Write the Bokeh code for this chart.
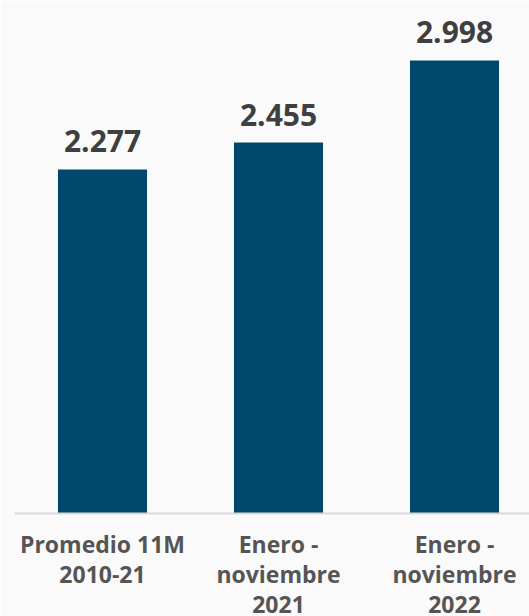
from bokeh.plotting import figure
from bokeh.models import ColumnDataSource, Range1d, FixedTicker
from bokeh.embed import file_html
from bokeh.resources import INLINE
from bokeh.core.properties import value

categories = ["Promedio 11M\n2010-21", "Enero -\nnoviembre\n2021", "Enero -\nnoviembre\n2022"]
values = [2277, 2455, 2998]

xs = [i + 0.5 for i in range(len(categories))]
labels = [f"{v:,}".replace(",", ".") for v in values]
src = ColumnDataSource(dict(x=xs, top=values, label=labels))

BG = "#fafafa"
p = figure(frame_width=515, frame_height=505, output_backend="svg", toolbar_location=None,
           x_range=Range1d(0, 2.926), y_range=Range1d(0, 3342),
           min_border_left=14, min_border_right=0, min_border_top=8, min_border_bottom=0,
           background_fill_color=BG, border_fill_color=BG, outline_line_color=None)

p.vbar(x="x", top="top", width=0.506, bottom=0, source=src, fill_color="#00486b", line_color=None)
p.text(x="x", y="top", text="label", source=src, text_align="center", text_baseline="alphabetic",
       y_offset=-28, text_font=value("Open Sans"), text_font_style="bold", text_font_size="30px",
       text_color="#3f3f3f")

p.yaxis.visible = False
p.grid.visible = False
ax = p.xaxis[0]
ax.ticker = FixedTicker(ticks=xs)
ax.major_label_overrides = {x: c for x, c in zip(xs, categories)}
ax.axis_line_color = "#d9d9d9"
ax.axis_line_width = 2
ax.major_tick_line_color = None
ax.minor_tick_line_color = None
ax.major_tick_out = 0
ax.major_label_standoff = 14
ax.major_label_text_font = "Open Sans"
ax.major_label_text_font_style = "bold"
ax.major_label_text_font_size = "23px"
ax.major_label_text_color = "#555555"
ax.major_label_text_line_height = 0.95

open("out.html", "w").write(file_html(p, INLINE))
